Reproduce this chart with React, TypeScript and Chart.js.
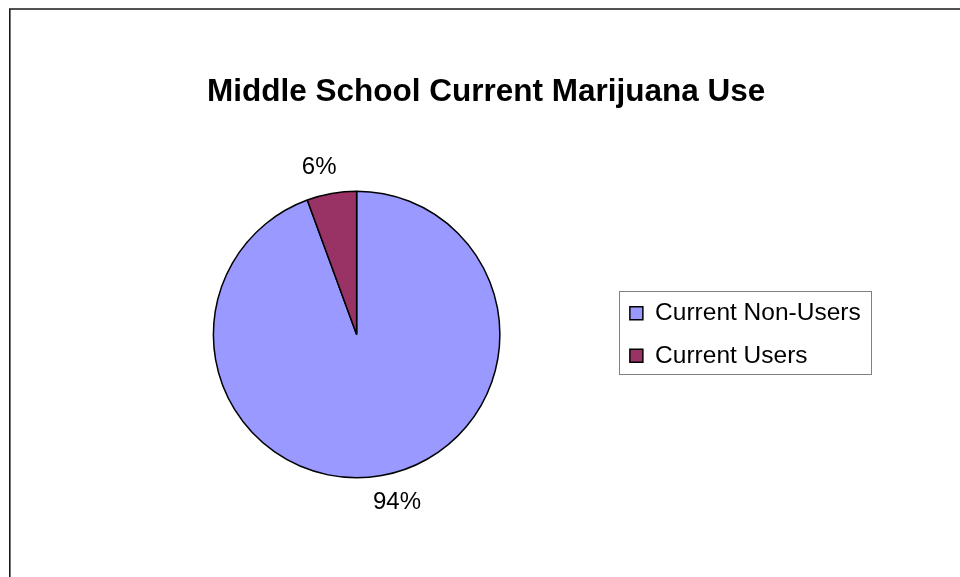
import React, { useEffect, useRef } from "react";
import { Chart, registerables } from "chart.js";

Chart.register(...registerables);

const TITLE = "Middle School Current Marijuana Use";
const categories = ["Current Non-Users", "Current Users"];
const values = [94.4, 5.6];
const sliceColors = ["#9999FF", "#993366"];

const FONT = "'Liberation Sans', Arial, Helvetica, sans-serif";

const framePlugin = {
  id: "frame",
  beforeDraw(chart: any) {
    const { ctx, width, height } = chart;
    ctx.save();
    ctx.fillStyle = "#ffffff";
    ctx.fillRect(0, 0, width, height);
    ctx.strokeStyle = "#1a1a1a";
    ctx.lineWidth = 1.6;
    ctx.beginPath();
    ctx.moveTo(9.8, height + 2);
    ctx.lineTo(9.8, 9);
    ctx.lineTo(width + 2, 9);
    ctx.stroke();
    ctx.restore();
  },
};

const legendBorderPlugin = {
  id: "legendBorder",
  afterDraw(chart: any) {
    const lg = chart.legend;
    if (!lg || !lg.legendHitBoxes || !lg.legendHitBoxes.length) return;
    const boxes = lg.legendHitBoxes;
    let l = Infinity, t = Infinity, r = -Infinity, b = -Infinity;
    boxes.forEach((h: any) => {
      l = Math.min(l, h.left);
      t = Math.min(t, h.top);
      r = Math.max(r, h.left + h.width);
      b = Math.max(b, h.top + h.height);
    });
    const { ctx } = chart;
    ctx.save();
    ctx.strokeStyle = "#808080";
    ctx.lineWidth = 1;
    const x0 = Math.round(l - 10.5) + 0.5;
    const y0 = Math.round(t - 10) + 0.5;
    const x1 = Math.round(r + 10) + 0.5;
    const y1 = Math.round(b + 6) + 0.5;
    ctx.strokeRect(x0, y0, x1 - x0, y1 - y0);
    ctx.restore();
  },
};

const pctLabelPlugin = {
  id: "pctLabels",
  afterDatasetsDraw(chart: any) {
    const { ctx } = chart;
    const meta = chart.getDatasetMeta(0);
    const data = chart.data.datasets[0].data as number[];
    const total = data.reduce((a, v) => a + v, 0);
    ctx.save();
    ctx.font = `24px ${FONT}`;
    ctx.fillStyle = "#000000";
    ctx.textAlign = "center";
    ctx.textBaseline = "middle";
    meta.data.forEach((arc: any, i: number) => {
      const p = arc.getProps(["x", "y", "startAngle", "endAngle", "outerRadius"], true);
      const mid = (p.startAngle + p.endAngle) / 2;
      const text = Math.round((data[i] / total) * 100) + "%";
      const w = ctx.measureText(text).width;
      const d = p.outerRadius + 27;
      const c = Math.cos(mid);
      const lx = p.x + c * d + Math.sign(c) * w * 0.22;
      const ly = p.y + Math.sin(mid) * d;
      ctx.fillText(text, lx, ly);
    });
    ctx.restore();
  },
};

export default function App() {
  const ref = useRef<HTMLCanvasElement | null>(null);

  useEffect(() => {
    if (!ref.current) return;
    const chart = new Chart(ref.current, {
      type: "pie",
      data: {
        labels: categories,
        datasets: [
          {
            data: values,
            backgroundColor: sliceColors,
            borderColor: "#000000",
            borderWidth: 1.5,
          },
        ],
      },
      options: {
        responsive: false,
        animation: false,
        devicePixelRatio: 1,
        layout: { padding: { left: 101.6, right: 89.3, top: 0, bottom: 98.5 } },
        plugins: {
          title: {
            display: true,
            text: TITLE,
            color: "#000000",
            font: { family: FONT, size: 31.5, weight: "bold" },
            padding: { top: 73.6, bottom: 79.1 },
          },
          legend: {
            position: "right",
            align: "center",
            fullSize: false,
            labels: {
              boxWidth: 13,
              boxHeight: 13,
              padding: 18.2,
              color: "#000000",
              font: { family: FONT, size: 24.5 },
            },
          },
          tooltip: { enabled: false },
        },
      } as any,
      plugins: [framePlugin, legendBorderPlugin, pctLabelPlugin],
    });
    return () => chart.destroy();
  }, []);

  return (
    <div style={{ position: "fixed", left: 0, top: 0, width: 960, height: 577, background: "#fff" }}>
      <canvas ref={ref} width={960} height={577} style={{ display: "block", width: 960, height: 577 }} />
    </div>
  );
}
